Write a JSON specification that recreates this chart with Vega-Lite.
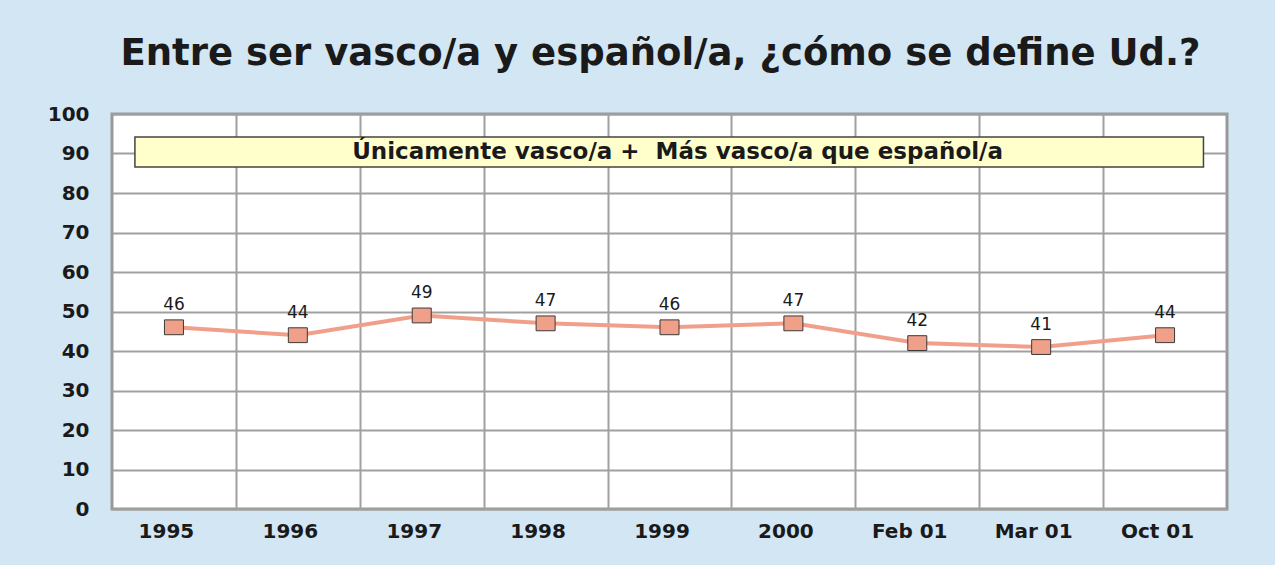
{
  "$schema": "https://vega.github.io/schema/vega-lite/v6.json",
  "width": 1115,
  "height": 395,
  "autosize": {"type": "none"},
  "padding": {"left": 112, "top": 114, "right": 48, "bottom": 56},
  "background": "#D2E6F4",
  "title": {
    "text": "Entre ser vasco/a y español/a, ¿cómo se define Ud.?",
    "font": "DejaVu Sans",
    "fontSize": 37,
    "fontWeight": "bold",
    "color": "#1a1a1a",
    "anchor": "middle",
    "offset": 31,
    "dx": -9
  },
  "config": {
    "view": {"stroke": "#999999", "strokeWidth": 3, "fill": "white"},
    "font": "DejaVu Sans"
  },
  "data": {
    "values": [
      {"periodo": "1995", "valor": 46},
      {"periodo": "1996", "valor": 44},
      {"periodo": "1997", "valor": 49},
      {"periodo": "1998", "valor": 47},
      {"periodo": "1999", "valor": 46},
      {"periodo": "2000", "valor": 47},
      {"periodo": "Feb 01", "valor": 42},
      {"periodo": "Mar 01", "valor": 41},
      {"periodo": "Oct 01", "valor": 44}
    ]
  },
  "resolve": {"scale": {"x": "independent"}, "axis": {"x": "independent", "y": "independent"}},
  "layer": [
    {
      "encoding": {
        "x": {
          "field": "periodo",
          "type": "ordinal",
          "sort": null,
          "scale": {"paddingInner": 0, "paddingOuter": 0},
          "axis": {
            "title": null,
            "labelAngle": 0,
            "labelFont": "DejaVu Sans",
            "labelFontSize": 20,
            "labelFontWeight": "bold",
            "labelColor": "#1a1a1a",
            "labelPadding": 12,
            "labelOffset": -8,
            "ticks": false,
            "domain": false,
            "grid": false
          }
        },
        "y": {
          "field": "valor",
          "type": "quantitative",
          "scale": {"domain": [0, 100], "nice": false},
          "axis": {
            "title": null,
            "values": [0, 10, 20, 30, 40, 50, 60, 70, 80, 90, 100],
            "labelFont": "DejaVu Sans",
            "labelFontSize": 20,
            "labelFontWeight": "bold",
            "labelColor": "#1a1a1a",
            "labelPadding": 23,
            "labelOverlap": false,
            "ticks": false,
            "domain": false,
            "grid": true,
            "gridColor": "#a0a0a0",
            "gridWidth": 2
          }
        }
      },
      "layer": [
        {
          "mark": {"type": "line", "color": "#F0A08A", "strokeWidth": 4}
        },
        {
          "mark": {"type": "point", "shape": "M-1,-0.78H1V0.78H-1Z", "size": 361, "filled": true, "fill": "#F0A088", "stroke": "#3a3a3a", "strokeWidth": 1, "opacity": 1}
        },
        {
          "mark": {"type": "text", "dy": -22, "fontSize": 17, "font": "DejaVu Sans", "color": "#1a1a1a"},
          "encoding": {"text": {"field": "valor", "type": "quantitative"}}
        }
      ]
    },
    {
      "data": {"values": [{"nota": "Únicamente vasco/a +\u00a0 Más vasco/a que español/a"}]},
      "layer": [
        {
          "mark": {"type": "rect", "fill": "#FFFFCC", "stroke": "#444444", "strokeWidth": 1.5},
          "encoding": {
            "x": {
              "datum": 0.185,
              "type": "quantitative",
              "scale": {"domain": [0, 9], "nice": false, "zero": false},
              "axis": {"values": [1, 2, 3, 4, 5, 6, 7, 8], "grid": true, "gridColor": "#a0a0a0", "gridWidth": 2, "labels": false, "ticks": false, "domain": false, "title": null}
            },
            "x2": {"datum": 8.81},
            "y": {"datum": 94.2, "type": "quantitative", "axis": null},
            "y2": {"datum": 86.6}
          }
        },
        {
          "mark": {"type": "text", "fontSize": 23, "fontWeight": "bold", "font": "DejaVu Sans", "color": "#1a1a1a"},
          "encoding": {
            "x": {
              "datum": 4.565,
              "type": "quantitative",
              "scale": {"domain": [0, 9], "nice": false, "zero": false},
              "axis": {"values": [1, 2, 3, 4, 5, 6, 7, 8], "grid": true, "gridColor": "#a0a0a0", "gridWidth": 2, "labels": false, "ticks": false, "domain": false, "title": null}
            },
            "y": {"datum": 90.4, "type": "quantitative", "axis": null},
            "text": {"field": "nota"}
          }
        }
      ]
    }
  ]
}
